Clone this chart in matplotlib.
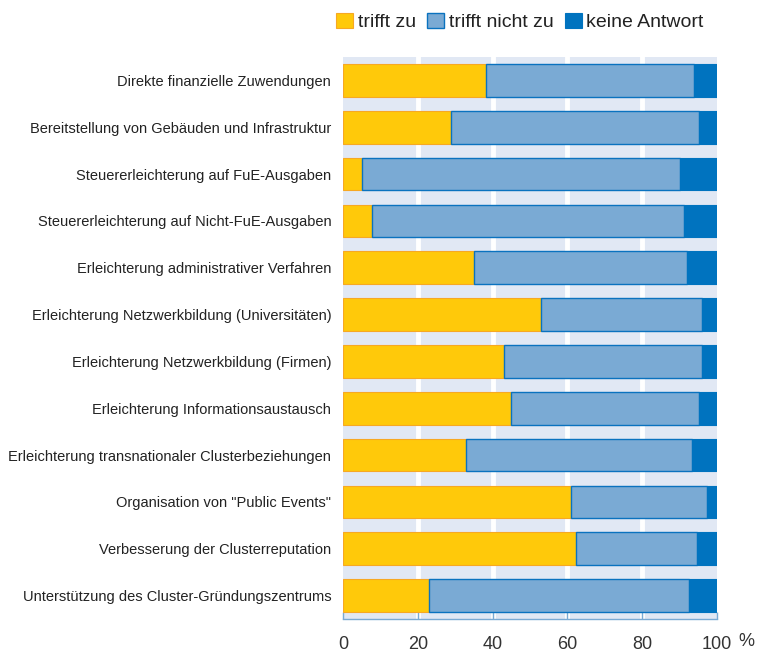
import matplotlib.pyplot as plt
import numpy as np

plt.rcParams['font.family'] = ['Liberation Sans', 'DejaVu Sans']

categories = [
    'Direkte finanzielle Zuwendungen',
    'Bereitstellung von Gebäuden und Infrastruktur',
    'Steuererleichterung auf FuE-Ausgaben',
    'Steuererleichterung auf Nicht-FuE-Ausgaben',
    'Erleichterung administrativer Verfahren',
    'Erleichterung Netzwerkbildung (Universitäten)',
    'Erleichterung Netzwerkbildung (Firmen)',
    'Erleichterung Informationsaustausch',
    'Erleichterung transnationaler Clusterbeziehungen',
    'Organisation von "Public Events"',
    'Verbesserung der Clusterreputation',
    'Unterstützung des Cluster-Gründungszentrums',
]
trifft_zu = [38.2, 28.9, 5.1, 7.8, 35.0, 52.9, 43.0, 44.9, 32.9, 61.0, 62.3, 23.0]
trifft_nicht_zu = [55.7, 66.3, 85.0, 83.4, 57.0, 43.1, 53.0, 50.3, 60.4, 36.3, 32.4, 69.5]
keine_antwort = [6.1, 4.8, 9.9, 8.8, 8.0, 4.0, 4.0, 4.8, 6.7, 2.7, 5.3, 7.5]

xticks = [0, 20, 40, 60, 80, 100]

fig = plt.figure(figsize=(7.59, 6.53), dpi=100)
ax = fig.add_axes([343/759, 34/653, 374/759, 562/653])

ax.set_facecolor('#e1e8f4')
ax.grid(True, axis='x', color='white', linewidth=3.5)
ax.set_axisbelow(True)

y = np.arange(len(categories))
a = np.array(trifft_zu)
b = np.array(trifft_nicht_zu)
c = np.array(keine_antwort)
h = 0.7
ax.barh(y, a, height=h, color='#ffc90a', edgecolor='#f7a823', linewidth=0.8, label='trifft zu')
ax.barh(y, b, left=a, height=h, color='#7aaad4', edgecolor='#0a72bf', linewidth=1.0, label='trifft nicht zu')
ax.barh(y, c, left=a + b, height=h, color='#0073bf', edgecolor='#0073bf', linewidth=0.8, label='keine Antwort')

ax.set_ylim(len(categories) - 0.5, -0.5)
ax.set_xlim(0, 100)
ax.set_yticks(y)
ax.set_yticklabels(categories, fontsize=10.5, color='#222222')
ax.tick_params(axis='y', length=0, pad=8.5)
ax.set_xticks(xticks)
ax.set_xticklabels([str(t) for t in xticks], fontsize=13, color='#333333')
ax.tick_params(axis='x', direction='in', length=5, color='#7aaad4', width=1, pad=12)

# no white line at 0 and 100
gl = ax.get_xgridlines()
gl[0].set_visible(False)
gl[-1].set_visible(False)

for s in ['top', 'right', 'left']:
    ax.spines[s].set_visible(False)
ax.spines['bottom'].set_color('#7aaad4')
ax.spines['bottom'].set_linewidth(1)

fig.text(746/759, 1 - 641/653, '%', fontsize=13, color='#333333', ha='center', va='center')

fig.legend(loc='center', bbox_to_anchor=(520/759, 1 - 22/653), ncol=3, frameon=False,
           fontsize=14, labelcolor='#222222', handlelength=0.85, handleheight=0.85,
           handletextpad=0.25, columnspacing=0.6)

fig.savefig('out.png', dpi=100)
